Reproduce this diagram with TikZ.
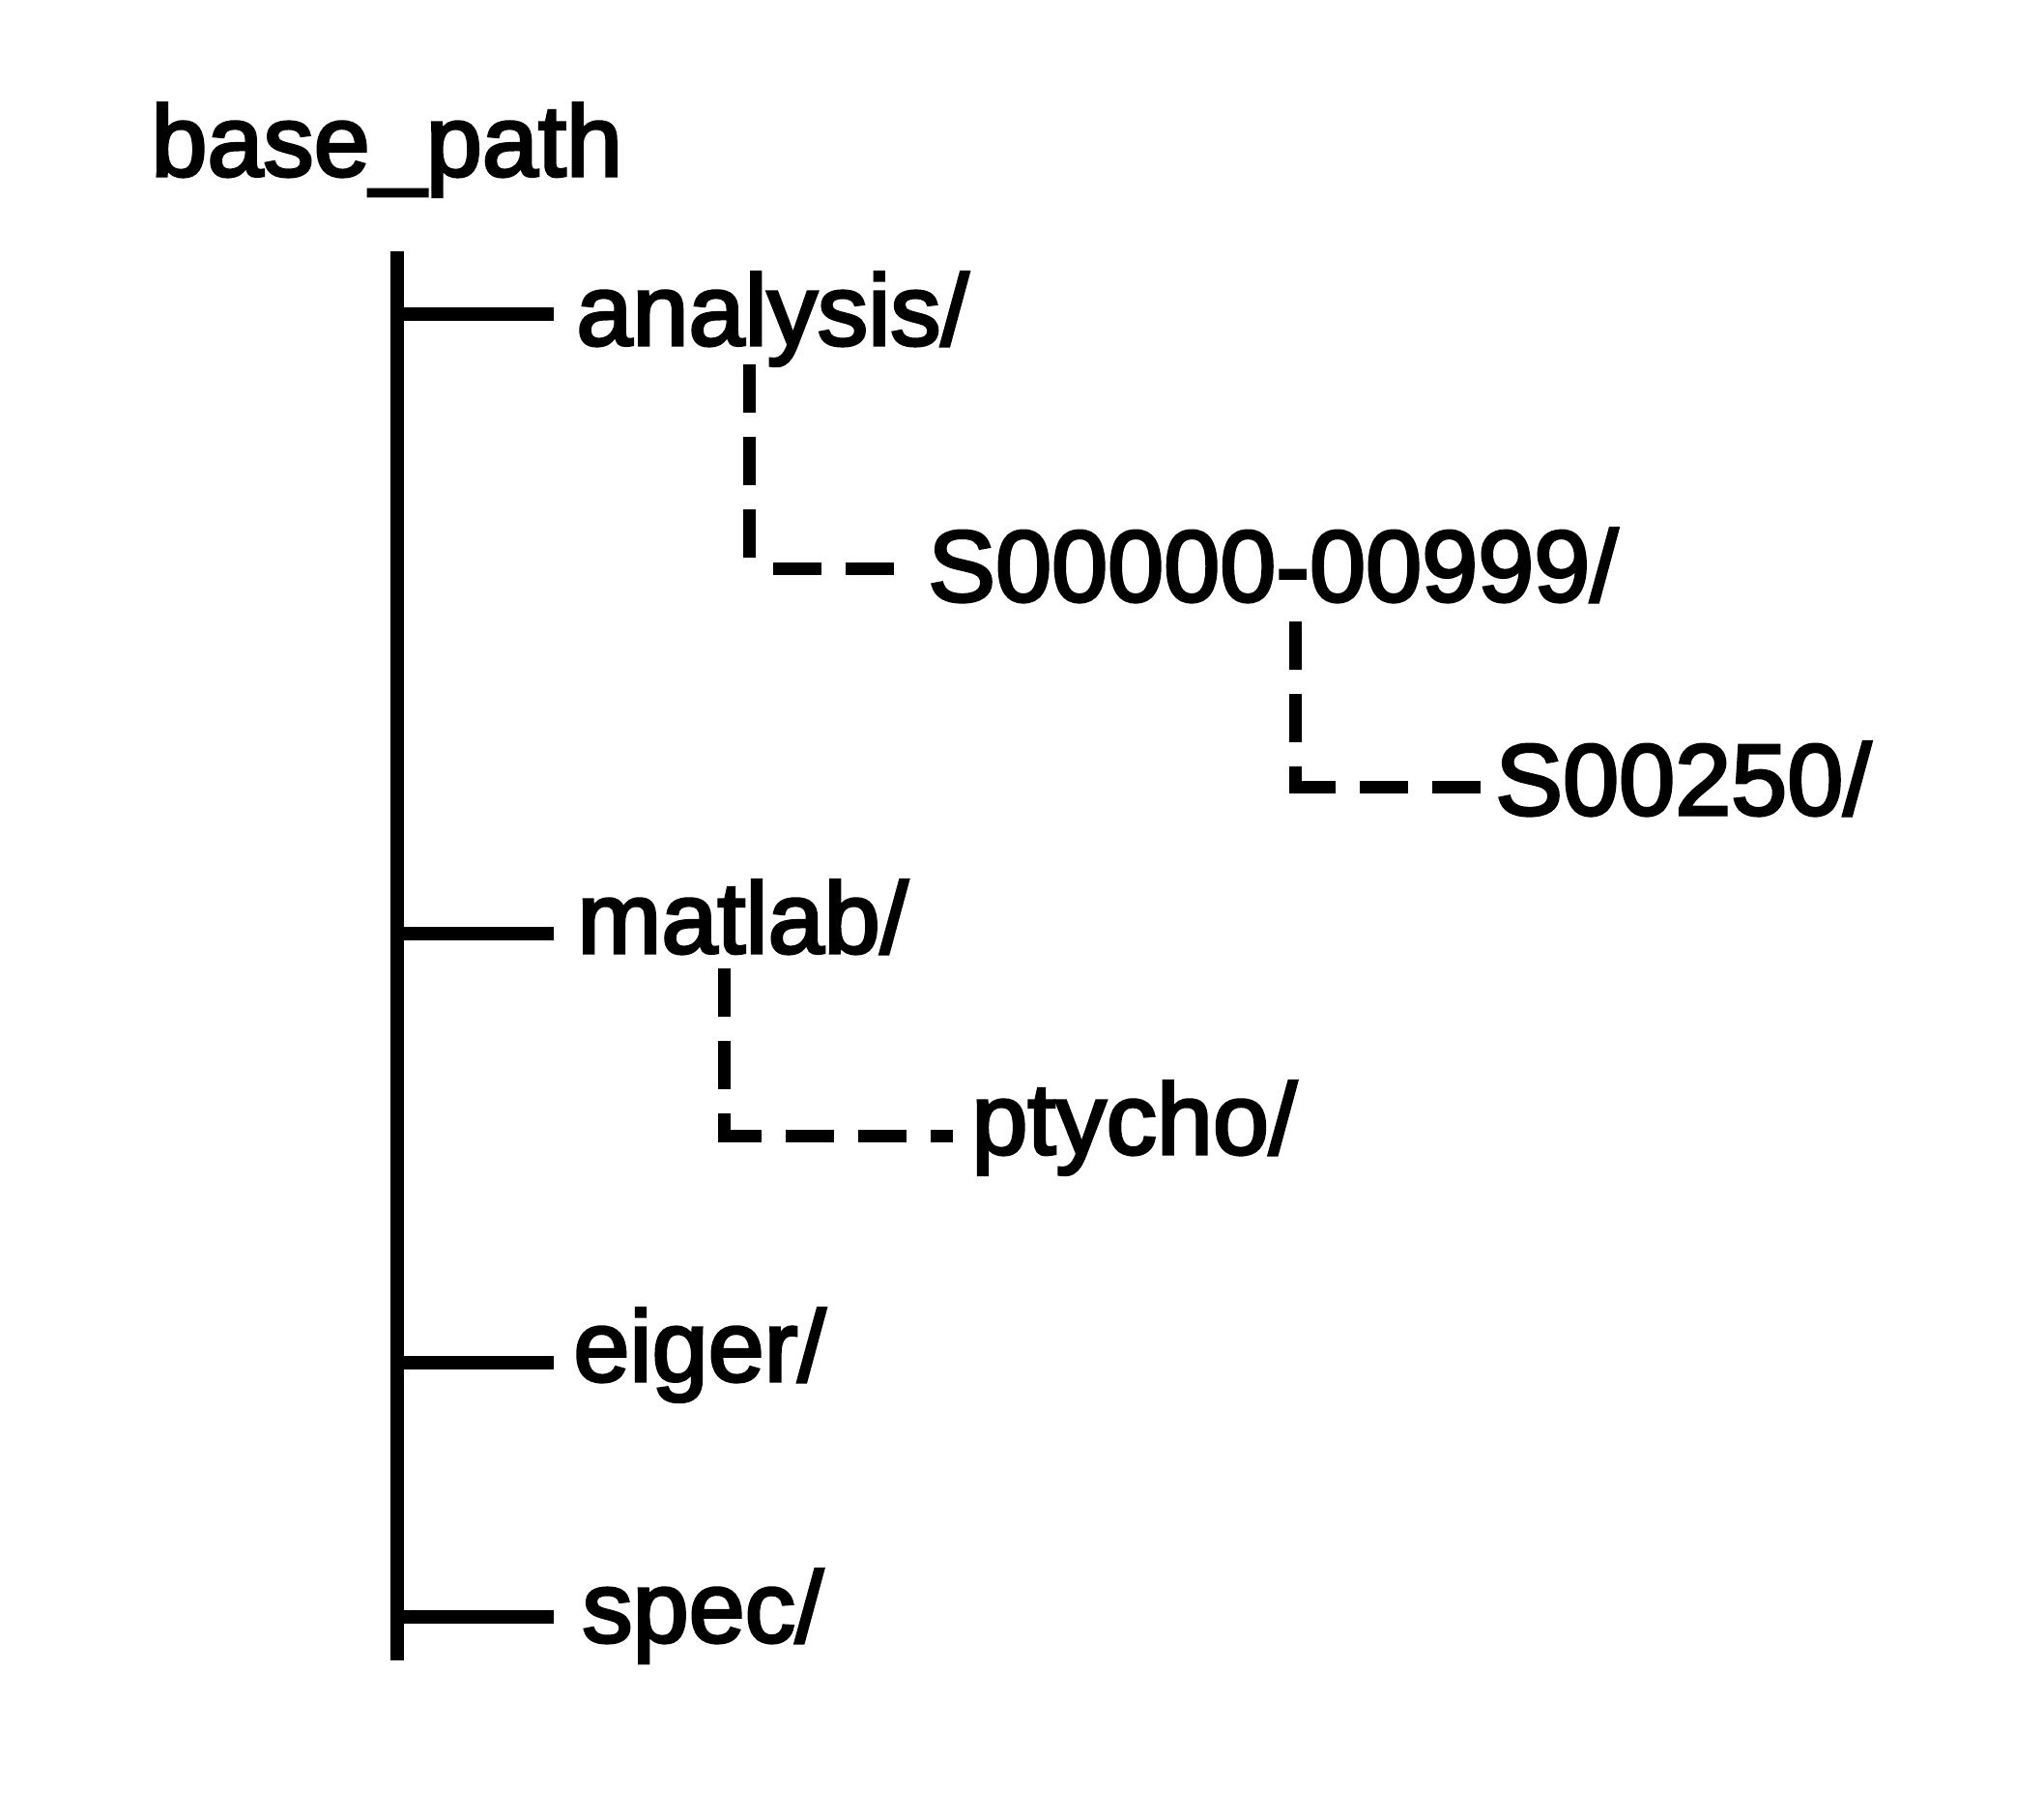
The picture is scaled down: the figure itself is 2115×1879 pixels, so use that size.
\documentclass[tikz,border=0pt]{standalone}
\usepackage{fontspec}
\newfontfamily\dirfont{Liberation Sans}[FakeBold=3]
\usepackage{tikz}

\begin{document}
\begin{tikzpicture}[x=0.5pt,y=-0.5pt,
  dir/.style={anchor=base west,inner sep=0pt,font=\dirfont\fontsize{52.2}{60}\selectfont},
  trunk/.style={line width=7pt},
  branch/.style={line width=7.2pt},
  twig/.style={line width=6.5pt,dash pattern=on 25pt off 12.5pt}]
\useasboundingbox (0,0) rectangle (2115,1879);
\node[dir] (base) at (156,182) {base\_path};
\node[dir] (analysis) at (596,357) {analysis/};
\node[dir] (range) at (960,622) {S00000-00999/};
\node[dir] (scan) at (1547,843) {S00250/};
\node[dir] (matlab) at (597,986) {matlab/};
\node[dir] (ptycho) at (1005,1194) {ptycho/};
\node[dir] (eiger) at (593,1429) {eiger/};
\node[dir] (spec) at (602,1699) {spec/};
\coordinate (top) at (411,260);
\coordinate (bottom) at (411,1718);
\coordinate (b1) at (411,325);
\coordinate (b2) at (411,966);
\coordinate (b3) at (411,1410);
\coordinate (b4) at (411,1673);
\coordinate (stemA) at (775,377);
\coordinate (kneeA) at (775,588);
\coordinate (stemB) at (1340,643);
\coordinate (kneeB) at (1340,814);
\coordinate (stemC) at (749,1002);
\coordinate (kneeC) at (749,1175);
\draw[trunk] (top)--(bottom);
\draw[branch,shorten >=11.5pt] (b1)--(b1 -| analysis.west);
\draw[branch,shorten >=12pt] (b2)--(b2 -| matlab.west);
\draw[branch,shorten >=10pt] (b3)--(b3 -| eiger.west);
\draw[branch,shorten >=14.5pt] (b4)--(b4 -| spec.west);
\draw[twig] (stemA)--(kneeA);
\draw[twig,dash phase=25pt,shorten >=17.5pt] (kneeA)--(kneeA -| range.west);
\draw[twig] (stemB)--(kneeB);
\draw[twig,dash phase=0.75pt,shorten >=7.5pt] ([xshift=-3.25pt]kneeB)--(kneeB -| scan.west);
\draw[twig] (stemC)--(kneeC);
\draw[twig,dash phase=2.25pt,shorten >=9.5pt] ([xshift=-3.25pt]kneeC)--(kneeC -| ptycho.west);
\end{tikzpicture}
\end{document}
